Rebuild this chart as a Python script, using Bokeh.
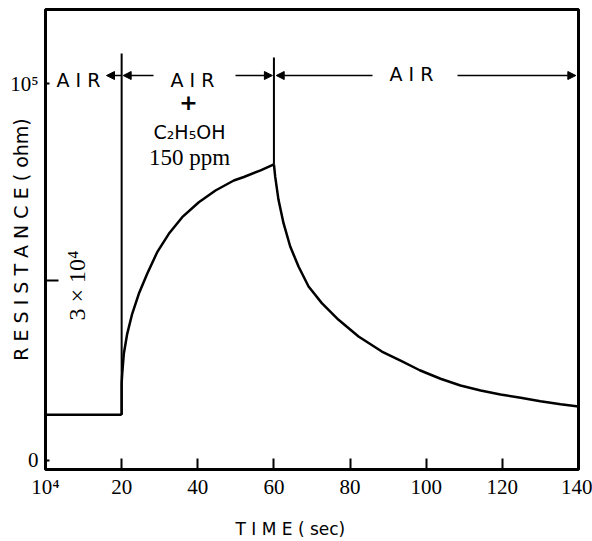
import math
from bokeh.plotting import figure
from bokeh.models import FixedTicker, Label, Arrow, NormalHead, Range1d
from bokeh.embed import file_html
from bokeh.resources import INLINE

# ---- data ----
air1_t = [0, 20]
air1_r = [13200, 13200]

gas_t = [20, 20, 20.15, 20.57, 21.46, 22.77, 24.51, 26.71, 29.34, 32.39, 35.91,
         40.27, 44.65, 49.46, 52.1, 56.5, 60]
gas_r = [13200, 16000, 16960, 19160, 21650, 24470, 27650, 31250, 35660, 39900, 44170,
         48400, 52000, 55270, 56460, 58820, 61000]

air2_t = [60, 60.34, 61.2, 62.52, 64.28, 66.46, 69.1, 72.58, 76.97, 82.22, 88.35,
          93.4, 98.3, 103.76, 109.0, 114.3, 119.5, 124.8, 130.0, 135.3, 140]
air2_r = [61000, 56490, 49110, 42580, 36920, 32680, 28920, 26120, 23590, 21300, 19430,
          18340, 17330, 16450, 15790, 15310, 14940, 14640, 14330, 14070, 13880]

x_ticks = [0, 20, 40, 60, 80, 100, 120, 140]
x_tick_labels = {0: "10\u2074"}
y_ticks = [1e4, 1e5]
y_tick_labels = {1e4: "0", 1e5: "10\u2075"}
y_mid_tick = 3e4
switch_times = [20, 60]

# ---- layout helpers (frame: px 45..578 horizontally, 9..469 vertically) ----
FL, FR, FT, FB = 45, 578, 9, 469
PX_PER_DEC = 376.7
Y5_PX = 83

def tx(px):
    return (px - FL) / (FR - FL) * 140.0

def ry(py):
    return 10 ** (5 - (py - Y5_PX) / PX_PER_DEC)

W, H = 592, 541
p = figure(width=W, height=H, y_axis_type="log", output_backend="svg",
           toolbar_location=None, x_range=Range1d(0, 140),
           y_range=Range1d(ry(FB), ry(FT)))
p.min_border_left = FL
p.min_border_right = W - FR
p.min_border_top = FT
p.min_border_bottom = H - FB
p.grid.visible = False
p.outline_line_color = "black"
p.outline_line_width = 3
p.background_fill_color = "white"
p.border_fill_color = "white"

serif = "Liberation Serif"
sans = "DejaVu Sans"

xa = p.xaxis[0]
xa.ticker = FixedTicker(ticks=x_ticks)
xa.major_label_overrides = x_tick_labels
xa.axis_line_color = None
xa.major_tick_in = 11
xa.major_tick_out = 0
xa.major_tick_line_width = 2
xa.minor_tick_line_color = None
xa.major_label_standoff = 5
xa.major_label_text_font = serif
xa.major_label_text_font_size = "21px"
xa.major_label_text_color = "black"
xa.axis_label = "T I M E ( sec)" + "\u00a0" * 8
xa.axis_label_text_font = sans
xa.axis_label_text_font_style = "normal"
xa.axis_label_text_font_size = "17px"
xa.axis_label_text_color = "black"
xa.axis_label_standoff = 17

ya = p.yaxis[0]
ya.ticker = FixedTicker(ticks=y_ticks)
ya.major_label_overrides = y_tick_labels
ya.axis_line_color = None
ya.major_tick_in = 4
ya.major_tick_out = 0
ya.major_tick_line_width = 2
ya.minor_tick_line_color = None
ya.major_label_standoff = 7
ya.major_label_text_font = serif
ya.major_label_text_font_size = "21px"
ya.major_label_text_color = "black"
ya.axis_label = "R E S I S T A N C E ( ohm)"
ya.axis_label_text_font = sans
ya.axis_label_text_font_style = "normal"
ya.axis_label_text_font_size = "19px"
ya.axis_label_text_color = "black"
ya.axis_label_standoff = -25

# longer inner tick at 3x10^4
p.segment(x0=[0], y0=[y_mid_tick], x1=[tx(FL + 13)], y1=[y_mid_tick],
          line_color="black", line_width=2)

# curve
p.line(air1_t, air1_r, line_color="black", line_width=2.5)
p.line(gas_t, gas_r, line_color="black", line_width=2.5, line_join="round")
p.line(air2_t, air2_r, line_color="black", line_width=2.5, line_join="round")

# switching markers
p.segment(x0=[switch_times[0]], y0=[ry(53)], x1=[switch_times[0]], y1=[air1_r[-1]],
          line_color="black", line_width=2)
p.segment(x0=[switch_times[1]], y0=[ry(57)], x1=[switch_times[1]], y1=[gas_r[-1]],
          line_color="black", line_width=2)

# arrows
ay = ry(75)
def arrow(xs, xe):
    p.add_layout(Arrow(end=NormalHead(size=8, fill_color="black", line_color="black"),
                       x_start=xs, y_start=ay, x_end=xe, y_end=ay,
                       line_color="black", line_width=1.5))
arrow(20, tx(106))
arrow(tx(153), 20.4)
arrow(tx(235), 59.6)
arrow(tx(372), 60.6)
arrow(tx(457), 139.3)

def lab(x, y, text, font=sans, size="19px", angle=0, align="center", style="normal"):
    p.add_layout(Label(x=x, y=y, text=text, text_font=font, text_font_size=size,
                       text_align=align, text_baseline="middle", angle=angle,
                       text_color="black", text_font_style=style))

lab(tx(78), ry(79), "A I R")
lab(tx(192), ry(79), "A I R")
lab(tx(411), ry(73), "A I R")
lab(tx(188), ry(101), "+", size="22px", style="bold")
lab(tx(189), ry(131), "C\u2082H\u2085OH", size="19px")
lab(tx(189), ry(157), "150 ppm", font=serif, size="23px")
lab(tx(76), ry(285), "3 \u00d7 10\u2074", font=serif, size="24px", angle=math.pi / 2)

open("out.html", "w").write(file_html(p, INLINE))
